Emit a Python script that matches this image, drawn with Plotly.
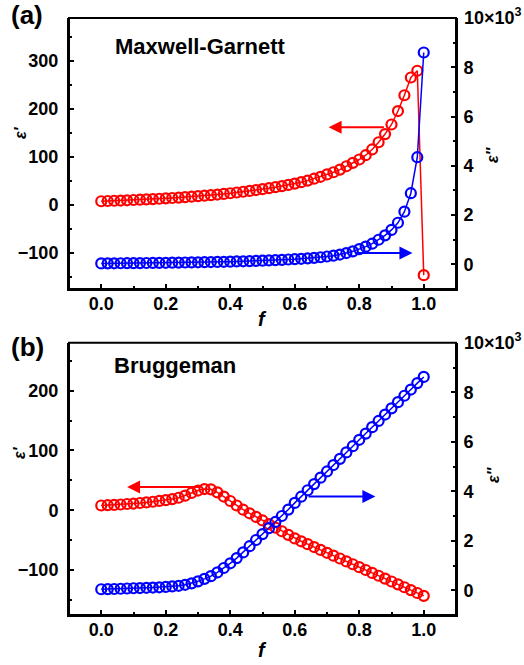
import plotly.graph_objects as go

f = [round(i * 0.02, 2) for i in range(51)]

# Panel (a) Maxwell-Garnett
mg_eps1 = [8, 8.5, 9, 9.5, 10, 10.6, 11.2, 11.8, 12.5, 13.2,
           14.0, 14.8, 15.6, 16.5, 17.5, 18.5, 19.6, 20.7, 22.0, 23.3,
           24.7, 26.2, 27.8, 29.6, 31.4, 33.2, 35.2, 37.3, 39.6, 42.1,
           44.8, 47.8, 51, 55, 59, 64, 68.5, 74, 81, 88,
           95, 104, 116, 131, 148, 168, 196, 229, 266, 280,
           -146]
mg_eps2 = [0.04, 0.042, 0.044, 0.046, 0.048, 0.05, 0.053, 0.056, 0.059, 0.062,
           0.065, 0.069, 0.073, 0.077, 0.081, 0.085, 0.09, 0.095, 0.1, 0.106,
           0.112, 0.119, 0.126, 0.134, 0.143, 0.152, 0.162, 0.173, 0.185, 0.198,
           0.212, 0.228, 0.245, 0.265, 0.29, 0.32, 0.355, 0.4, 0.46, 0.53,
           0.62, 0.72, 0.84, 1.0, 1.18, 1.4, 1.69, 2.14, 2.89, 4.35,
           8.6]

# Panel (b) Bruggeman
br_eps1 = [8, 8.5, 9, 9.7, 10.5, 11.3, 12.2, 13.2, 14.3, 15.6,
           17, 18.7, 21, 24.5, 29, 33, 35.5, 35, 30, 23,
           15.5, 8, 1, -5, -11, -17, -23, -29, -35, -41,
           -47, -51.8, -56.6, -61.4, -66.2, -71, -75.8, -80.6, -85.4, -90.2,
           -95, -99.8, -104.6, -109.4, -114.2, -119, -123.8, -128.6, -133.4, -138.2,
           -143]
br_eps2 = [0.04, 0.045, 0.05, 0.06, 0.07, 0.08, 0.09, 0.1, 0.11, 0.12,
           0.135, 0.155, 0.18, 0.22, 0.28, 0.36, 0.46, 0.57, 0.72, 0.9,
           1.09, 1.3, 1.53, 1.78, 2.03, 2.27, 2.51, 2.76, 3.0, 3.26,
           3.53, 3.78, 4.04, 4.29, 4.55, 4.8, 5.06, 5.31, 5.57, 5.82,
           6.08, 6.33, 6.59, 6.84, 7.1, 7.35, 7.6, 7.86, 8.11, 8.37,
           8.62]

left_ticks_a = [-100, 0, 100, 200, 300]
left_ticks_b = [-100, 0, 100, 200]
right_ticks = [0, 2, 4, 6, 8]
x_ticks = [0.0, 0.2, 0.4, 0.6, 0.8, 1.0]
x_labels = ["0.0", "0.2", "0.4", "0.6", "0.8", "1.0"]

RED = "#FF0000"
BLUE = "#0000FF"
FONT = "Liberation Sans, Arial, sans-serif"

fig = go.Figure()

def add_series(x, y, color, xa, ya):
    fig.add_trace(go.Scatter(
        x=x, y=y, mode="lines+markers", xaxis=xa, yaxis=ya,
        line=dict(color=color, width=1.5),
        marker=dict(symbol="circle-open", size=10, color=color,
                    line=dict(width=2.2, color=color)),
        showlegend=False, cliponaxis=False))

add_series(f, mg_eps1, RED, "x", "y")
add_series(f, mg_eps2, BLUE, "x", "y2")
add_series(f, br_eps1, RED, "x2", "y3")
add_series(f, br_eps2, BLUE, "x2", "y4")

tickfont = dict(family=FONT, size=18, color="black", weight="bold")

def xax(anchor, side="bottom", overlay=None, labels=True):
    d = dict(range=[-0.1, 1.1], tickvals=x_ticks, ticktext=x_labels, side=side,
             ticks="inside", ticklen=5, tickwidth=2, tickcolor="black",
             showline=True, linewidth=2, linecolor="black",
             showgrid=False, zeroline=False, tickfont=tickfont, anchor=anchor,
             showticklabels=labels,
             minor=dict(ticks="inside", dtick=0.1, tick0=0, ticklen=3, tickwidth=2,
                        tickcolor="black", showgrid=False),
             ticklabelstandoff=-3, domain=[0, 1])
    if overlay:
        d["overlaying"] = overlay
        d["matches"] = overlay
    return d

def yleft(rng, vals, dom, anchor):
    return dict(range=rng, tickvals=vals, domain=dom, anchor=anchor,
                ticks="inside", ticklen=5, tickwidth=2, tickcolor="black",
                showline=True, linewidth=2, linecolor="black",
                showgrid=False, zeroline=False, tickfont=tickfont,
                minor=dict(ticks="inside", dtick=50, tick0=0, ticklen=3, tickwidth=2,
                           tickcolor="black", showgrid=False),
                ticklabelstandoff=5)

def yright(overlay, anchor):
    return dict(range=[-1, 10], tickvals=right_ticks, overlaying=overlay, side="right", anchor=anchor,
                ticks="inside", ticklen=5, tickwidth=2, tickcolor="black",
                showline=True, linewidth=2, linecolor="black",
                showgrid=False, zeroline=False, tickfont=tickfont,
                minor=dict(ticks="inside", dtick=1, tick0=0, ticklen=3, tickwidth=2,
                           tickcolor="black", showgrid=False),
                ticklabelstandoff=2)

fig.update_layout(
    width=524, height=665,
    margin=dict(l=69, r=68, t=18, b=50),
    paper_bgcolor="white", plot_bgcolor="white",
    xaxis=xax("y"),
    yaxis=yleft([-175, 390], left_ticks_a, [0.546, 1.0], "x"),
    yaxis2=yright("y", "x"),
    xaxis2=xax("y3"),
    yaxis3=yleft([-175, 280], left_ticks_b, [0.0, 0.456], "x2"),
    yaxis4=yright("y3", "x2"),
    xaxis3=xax("y", side="top", overlay="x", labels=False),
    xaxis4=xax("y3", side="top", overlay="x2", labels=False),
)

# frame around each panel
for xr, yr in (("x domain", "y domain"), ("x2 domain", "y3 domain")):
    fig.add_shape(type="rect", xref=xr, yref=yr, x0=0, x1=1, y0=0, y1=1,
                  line=dict(color="black", width=2), fillcolor="rgba(0,0,0,0)", layer="above")

# arrows
def arrow(x0, x1, y, color, xref, yref):
    fig.add_annotation(x=x1, y=y, ax=x0, ay=y, xref=xref, yref=yref, axref=xref, ayref=yref,
                       showarrow=True, arrowhead=2, arrowsize=1.3, arrowwidth=2, arrowcolor=color, text="")

arrow(0.881, 0.705, 162, RED, "x", "y")
arrow(0.782, 0.965, 0.46, BLUE, "x", "y2")
arrow(0.308, 0.08, 39, RED, "x2", "y3")
arrow(0.638, 0.85, 3.79, BLUE, "x2", "y4")

def txt(x, y, s, size, xanchor="left", yanchor="middle", angle=0, italic=False, bold=True):
    fig.add_annotation(x=x, y=y, xref="paper", yref="paper", text=s, showarrow=False,
                       xanchor=xanchor, yanchor=yanchor, textangle=angle,
                       font=dict(family=FONT, size=size, color="black",
                                 weight="bold" if bold else "normal",
                                 style="italic" if italic else "normal"))

def px_x(p):
    return (p - 69) / 387.0

def px_y(p):
    return (615 - p) / 597.0

txt(px_x(9), px_y(15), "(a)", 26)
txt(px_x(9), px_y(347), "(b)", 26)
txt(px_x(113), px_y(46), "Maxwell-Garnett", 22)
txt(px_x(112), px_y(365), "Bruggeman", 22)
txt(px_x(462), px_y(17), "10×10<sup>3</sup>", 18)
txt(px_x(462), px_y(341), "10×10<sup>3</sup>", 18)

# axis titles
txt(px_x(262), px_y(319), "f", 20, xanchor="center", italic=True)
txt(px_x(262), px_y(650), "f", 20, xanchor="center", italic=True)
txt(px_x(20), px_y(133), "ε'", 16, xanchor="center", angle=-90, italic=True, bold=True)
txt(px_x(20), px_y(453), "ε'", 16, xanchor="center", angle=-90, italic=True, bold=True)
txt(px_x(493), px_y(155), "ε''", 16, xanchor="center", angle=-90, italic=True, bold=True)
txt(px_x(493), px_y(475), "ε''", 16, xanchor="center", angle=-90, italic=True, bold=True)

fig.write_html("out.html", config={"displayModeBar": False},
               post_script="document.body.style.margin='0px';")
